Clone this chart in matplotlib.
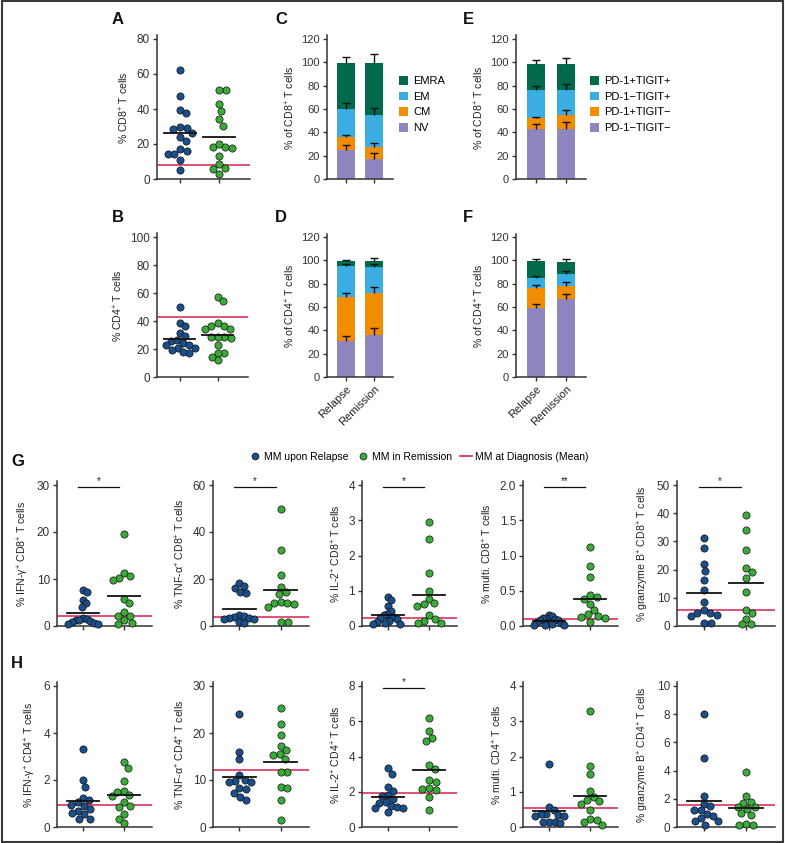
import numpy as np
import matplotlib
matplotlib.use("Agg")
import matplotlib.pyplot as plt
from matplotlib.lines import Line2D
from matplotlib.patches import Patch, Rectangle

plt.rcParams["font.family"] = ["Liberation Sans", "DejaVu Sans"]
plt.rcParams["mathtext.fontset"] = "custom"
plt.rcParams["mathtext.rm"] = "Liberation Sans"
plt.rcParams["mathtext.it"] = "Liberation Sans:italic"
plt.rcParams["mathtext.bf"] = "Liberation Sans:bold"

# ---------------- data ----------------
groups = ["Relapse", "Remission"]

# A / B: % CD8+ and % CD4+ T cells
cd8_relapse = [62, 47.5, 39.5, 37.5, 29, 29.5, 28.5, 26, 24, 21.5, 17, 14, 14.5, 16, 11, 5]
cd8_remission = [51, 51, 43, 39, 34, 30.5, 18, 17.5, 18, 20, 13, 6.5, 6, 8.5, 3]
cd8_means = [26.5, 24.0]
cd8_diag = 7.8
cd4_relapse = [50, 38.5, 36.5, 31.5, 29, 26, 26.5, 24, 23, 23, 21, 21, 19, 17, 18]
cd4_remission = [57, 54, 38.5, 36.5, 36.5, 34, 34, 28, 28.5, 28.5, 28.5, 23, 17, 17.5, 14.5, 12]
cd4_means = [26.9, 30.2]
cd4_diag = 43.0

# C / D: memory subsets (segment heights, bottom -> top)
mem_subsets = ["NV", "CM", "EM", "EMRA"]
mem_cd8_relapse = [25.1, 11.2, 23.7, 39.7]
mem_cd8_remission = [17.4, 10.3, 27.4, 44.6]
mem_cd8_err_relapse = [4.3, 1.1, 4.9, 5.0]
mem_cd8_err_remission = [4.6, 2.9, 5.8, 7.7]
mem_cd4_relapse = [30.9, 38.0, 26.5, 4.0]
mem_cd4_remission = [35.7, 36.3, 22.0, 5.4]
mem_cd4_err_relapse = [4.5, 3.1, 1.5, 1.0]
mem_cd4_err_remission = [6.0, 5.4, 3.0, 2.9]

# E / F: PD-1 / TIGIT subsets (segment heights, bottom -> top)
chk_subsets = ["PD-1\u2212TIGIT\u2212", "PD-1+TIGIT\u2212", "PD-1\u2212TIGIT+", "PD-1+TIGIT+"]
chk_cd8_relapse = [43.1, 8.9, 24.3, 22.6]
chk_cd8_remission = [42.6, 12.5, 21.2, 22.6]
chk_cd8_err_relapse = [4.0, 1.4, 3.4, 3.1]
chk_cd8_err_remission = [6.3, 4.0, 4.8, 5.1]
chk_cd4_relapse = [59.4, 17.2, 8.5, 14.3]
chk_cd4_remission = [66.9, 11.4, 10.3, 10.0]
chk_cd4_err_relapse = [3.5, 2.0, 1.2, 1.7]
chk_cd4_err_remission = [4.2, 3.1, 2.3, 2.5]

# G: CD8 function
g_labels = ["% IFN-\u03b3$^{+}$ CD8$^{+}$ T cells", "% TNF-\u03b1$^{+}$ CD8$^{+}$ T cells",
            "% IL-2$^{+}$ CD8$^{+}$ T cells", "% multi. CD8$^{+}$ T cells",
            "% granzyme B$^{+}$ CD8$^{+}$ T cells"]
g_relapse = [
    [7.7, 7.2, 5.5, 4.8, 4.0, 1.7, 1.5, 1.2, 1.2, 1.0, 0.8, 0.6, 0.5, 0.4],
    [18.3, 17.0, 16.3, 14.5, 14.0, 4.8, 4.3, 3.9, 3.6, 3.3, 3.0, 2.8, 1.5, 1.1],
    [0.82, 0.73, 0.56, 0.42, 0.35, 0.30, 0.25, 0.22, 0.20, 0.15, 0.12, 0.08, 0.06, 0.05],
    [0.16, 0.14, 0.12, 0.11, 0.10, 0.09, 0.08, 0.06, 0.05, 0.04, 0.03, 0.02, 0.01, 0.02],
    [31.1, 27.6, 22.1, 19.5, 16.4, 12.7, 8.5, 5.5, 4.6, 4.7, 3.8, 3.4, 1.1, 1.2],
]
g_remission = [
    [19.5, 11.3, 10.6, 10.2, 9.7, 5.8, 4.8, 2.9, 2.1, 2.1, 1.2, 0.5, 0.6],
    [49.6, 32.4, 21.9, 16.6, 14.5, 13.5, 10.2, 10.0, 10.0, 9.5, 8.1, 1.7, 1.7],
    [2.94, 2.48, 1.49, 0.99, 0.77, 0.64, 0.63, 0.58, 0.30, 0.21, 0.15, 0.08, 0.09],
    [1.12, 0.85, 0.69, 0.44, 0.41, 0.39, 0.31, 0.22, 0.17, 0.14, 0.13, 0.12, 0.06],
    [39.4, 34.0, 26.8, 20.5, 19.0, 17.0, 12.0, 5.8, 4.6, 2.6, 0.6, 0.6],
]
g_means = [(2.7, 6.3), (7.3, 15.5), (0.30, 0.87), (0.07, 0.38), (11.6, 15.2)]
g_diag = [2.1, 3.8, 0.23, 0.10, 5.5]
g_yticks = [[0, 10, 20, 30], [0, 20, 40, 60], [0, 1, 2, 3, 4],
            [0.0, 0.5, 1.0, 1.5, 2.0], [0, 10, 20, 30, 40, 50]]
g_sig = ["*", "*", "*", "**", "*"]

# H: CD4 function
h_labels = ["% IFN-\u03b3$^{+}$ CD4$^{+}$ T cells", "% TNF-\u03b1$^{+}$ CD4$^{+}$ T cells",
            "% IL-2$^{+}$ CD4$^{+}$ T cells", "% multi. CD4$^{+}$ T cells",
            "% granzyme B$^{+}$ CD4$^{+}$ T cells"]
h_relapse = [
    [3.3, 2.0, 1.7, 1.25, 1.15, 1.05, 0.95, 0.9, 0.75, 0.7, 0.6, 0.55, 0.35, 0.35],
    [24, 16, 14.4, 11, 10.1, 9.7, 9.6, 9.6, 8.3, 8.0, 7.3, 6.4, 5.8],
    [3.37, 3.03, 2.27, 2.04, 1.81, 1.75, 1.6, 1.41, 1.37, 1.2, 1.12, 1.05, 1.05, 0.84],
    [1.79, 0.57, 0.47, 0.38, 0.36, 0.34, 0.32, 0.30, 0.15, 0.14, 0.13, 0.12],
    [8.03, 4.86, 2.2, 1.66, 1.49, 1.18, 1.18, 0.9, 0.78, 0.62, 0.4, 0.4, 0.17],
]
h_remission = [
    [2.75, 2.5, 1.95, 1.55, 1.5, 1.35, 1.3, 1.05, 0.9, 0.85, 0.55, 0.35, 0.17],
    [25.4, 21.9, 19.5, 17.2, 16.3, 15.6, 15.4, 14.4, 11.7, 11.8, 8.5, 8.2, 5.7, 1.4],
    [6.17, 5.43, 5.05, 4.9, 3.54, 3.31, 2.65, 2.57, 2.19, 2.15, 2.08, 1.71, 0.95],
    [3.28, 1.74, 1.49, 1.03, 0.85, 0.76, 0.73, 0.66, 0.48, 0.22, 0.20, 0.14, 0.07],
    [3.89, 2.2, 1.8, 1.71, 1.42, 1.42, 1.26, 0.97, 0.83, 0.24, 0.17, 0.17],
]
h_means = [(1.11, 1.35), (10.7, 13.9), (1.73, 3.26), (0.44, 0.89), (1.82, 1.35)]
h_diag = [0.94, 12.2, 1.92, 0.53, 1.56]
h_yticks = [[0, 2, 4, 6], [0, 10, 20, 30], [0, 2, 4, 6, 8], [0, 1, 2, 3, 4], [0, 2, 4, 6, 8, 10]]
h_sig = ["", "", "*", "", ""]

# ---------------- style ----------------
W, H = 785, 843
BLUE = "#1b4f8c"
GREEN = "#3aab38"
RED = "#d8204f"
SUB_COLORS = ["#9086bf", "#f28c00", "#3aade2", "#006a4b"]
AX_COL = "#333333"

fig = plt.figure(figsize=(W / 100, H / 100), dpi=100)


def make_ax(x0, x1, ytop, ybot, ymax, xlim, tick_fs=8):
    # ytop = pixel of the top tick, ybot = pixel of 0; spine a bit over top tick
    over = 0.025
    top = ybot - (1 + over) * (ybot - ytop)
    ax = fig.add_axes([x0 / W, 1 - ybot / H, (x1 - x0) / W, (ybot - top) / H])
    ax.set_ylim(0, ymax * (1 + over))
    ax.set_xlim(*xlim)
    for s in ["top", "right"]:
        ax.spines[s].set_visible(False)
    for s in ["left", "bottom"]:
        ax.spines[s].set_linewidth(1.1)
        ax.spines[s].set_color(AX_COL)
    ax.tick_params(direction="out", length=3, width=1, color=AX_COL,
                   labelsize=tick_fs, labelcolor=AX_COL, pad=2)
    ax.set_xticks([1, 2])
    ax.set_xticklabels([])
    return ax


def swarm_x(ax, xc, vals, dxs=6.8, dys=7.5, lim=15.0):
    # Prism-like scatter: points of similar value are laid side by side
    tr = ax.transData
    xc_pix = tr.transform((xc, 0))[0]
    ypix = [tr.transform((xc, v))[1] for v in vals]
    order = np.argsort(vals)[::-1]
    placed = []
    offs = np.zeros(len(vals))
    for i in order:
        y = ypix[i]
        cands = [0.0]
        for px, py in placed:
            dy = y - py
            if abs(dy) < dys:
                dx = dxs * np.sqrt(1 - (dy / dys) ** 2)
                cands += [px + dx - xc_pix, px - dx - xc_pix]
        cands.sort(key=abs)
        for c in cands:
            if all(((xc_pix + c - px) / dxs) ** 2 + ((y - py) / dys) ** 2 >= 1 - 1e-6
                   for px, py in placed):
                break
        placed.append((xc_pix + c, y))
        offs[i] = c
    # crowded groups overlap instead of spreading past the mean bar
    m = np.abs(offs).max()
    if m > lim:
        offs = offs * lim / m
    return [tr.inverted().transform((xc_pix + o, y))[0] for o, y in zip(offs, ypix)]


def dot_panel(ax, rel, rem, means, diag, yticks, ylabel, sig=""):
    ax.set_yticks(yticks)
    if isinstance(yticks[1], float):
        ax.set_yticklabels([f"{t:.1f}" for t in yticks])
    ax.axhline(diag, color=RED, lw=1.1, zorder=2)
    for xc, vals, col in [(1, rel, BLUE), (2, rem, GREEN)]:
        xs = swarm_x(ax, xc, vals)
        ax.scatter(xs, vals, s=27, color=col, edgecolor="#111111", linewidth=0.5,
                   zorder=3, clip_on=False)
    for xc, m in zip([1, 2], means):
        ax.plot([xc - 0.4, xc + 0.4], [m, m], color="#111111", lw=1.3, zorder=4)
    ax.set_ylabel(ylabel, fontsize=7.6, color="#222222", labelpad=4)
    if sig:
        ymax = yticks[-1]
        ax.plot([0.88, 1.88], [ymax * 0.985] * 2, color="#111111", lw=0.9, clip_on=False)
        ax.text(1.38, ymax * 0.995, sig, ha="center", va="bottom", fontsize=7, color="#222222")


def stack_panel(ax, rel, rem, err_rel, err_rem, ylabel):
    ax.set_yticks(range(0, 121, 20))
    width = 0.62
    bottoms = np.zeros(2)
    for k in range(4):
        h = np.array([rel[k], rem[k]])
        ax.bar([1, 2], h, width=width, bottom=bottoms, color=SUB_COLORS[k],
               edgecolor="none", zorder=2)
        tops = bottoms + h
        e = np.array([err_rel[k], err_rem[k]])
        _, caps, _ = ax.errorbar([1, 2], tops, yerr=[np.zeros(2), e], fmt="none",
                                 ecolor="#111111", elinewidth=1, capsize=3.2, capthick=1,
                                 zorder=3)
        caps[0].set_visible(False)
        bottoms = tops
    ax.set_ylabel(ylabel, fontsize=7.6, color="#222222", labelpad=3)


# ---------------- A / B ----------------
xl_ab = (1 - 23 / 39, 1 + 70 / 39)
axA = make_ax(157, 250, 39, 179, 80, xl_ab, 8.5)
dot_panel(axA, cd8_relapse, cd8_remission, cd8_means, cd8_diag, [0, 20, 40, 60, 80],
          "% CD8$^{+}$ T cells")
axB = make_ax(157, 248, 237, 377, 100, xl_ab, 8.5)
dot_panel(axB, cd4_relapse, cd4_remission, cd4_means, cd4_diag, [0, 20, 40, 60, 80, 100],
          "% CD4$^{+}$ T cells")

# ---------------- C / D / E / F ----------------
xl_bar = (1 - 19 / 28, 2 + 19 / 28)
axC = make_ax(327, 393, 39, 179, 120, xl_bar)
stack_panel(axC, mem_cd8_relapse, mem_cd8_remission, mem_cd8_err_relapse,
            mem_cd8_err_remission, "% of CD8$^{+}$ T cells")
axD = make_ax(327, 393, 237, 377, 120, xl_bar)
stack_panel(axD, mem_cd4_relapse, mem_cd4_remission, mem_cd4_err_relapse,
            mem_cd4_err_remission, "% of CD4$^{+}$ T cells")
axE = make_ax(516, 586, 39, 179, 120, xl_bar)
stack_panel(axE, chk_cd8_relapse, chk_cd8_remission, chk_cd8_err_relapse,
            chk_cd8_err_remission, "% of CD8$^{+}$ T cells")
axF = make_ax(516, 586, 237, 377, 120, xl_bar)
stack_panel(axF, chk_cd4_relapse, chk_cd4_remission, chk_cd4_err_relapse,
            chk_cd4_err_remission, "% of CD4$^{+}$ T cells")

for ax in [axD, axF]:
    ax.set_xticklabels(groups, rotation=45, ha="right", rotation_mode="anchor",
                       fontsize=8, color="#222222")

for ax, names, xpos in [(axC, mem_subsets, 399), (axE, chk_subsets, 590)]:
    handles = [Patch(facecolor=SUB_COLORS[k], edgecolor="none") for k in range(4)][::-1]
    ax.legend(handles, names[::-1], loc="upper left",
              bbox_to_anchor=(xpos / W, 1 - 76 / H), bbox_transform=fig.transFigure,
              frameon=False, fontsize=8, handlelength=0.8, handleheight=0.8,
              handletextpad=0.5, labelspacing=0.5, borderaxespad=0, borderpad=0)

# ---------------- G / H ----------------
xl_gh = (1 - 26 / 41, 1 + 69 / 41)
col_x = [(57, 152), (213, 309), (362, 457), (523, 618), (677, 775)]
for i, (x0, x1) in enumerate(col_x):
    axg = make_ax(x0, x1, 485, 626, g_yticks[i][-1], xl_gh, 8.5)
    dot_panel(axg, g_relapse[i], g_remission[i], g_means[i], g_diag[i], g_yticks[i],
              g_labels[i], g_sig[i])
    axh = make_ax(x0, x1, 686, 827, h_yticks[i][-1], xl_gh, 8.5)
    dot_panel(axh, h_relapse[i], h_remission[i], h_means[i], h_diag[i], h_yticks[i],
              h_labels[i], h_sig[i])

leg_handles = [
    Line2D([], [], marker="o", ls="none", markersize=5, markerfacecolor=BLUE,
           markeredgecolor="#111111", markeredgewidth=0.5),
    Line2D([], [], marker="o", ls="none", markersize=5, markerfacecolor=GREEN,
           markeredgecolor="#111111", markeredgewidth=0.5),
    Line2D([], [], color=RED, lw=1.2),
]
fig.legend(leg_handles, ["MM upon Relapse", "MM in Remission", "MM at Diagnosis (Mean)"],
           loc="center", bbox_to_anchor=(419 / W, 1 - 457 / H), ncol=3, frameon=False,
           fontsize=7.5, handlelength=1.1, handletextpad=0.35, columnspacing=0.8)

# ---------------- panel letters & frame ----------------
for lab, (px, py) in {"A": (118, 19), "B": (118, 217), "C": (281, 19), "D": (281, 217),
                      "E": (468, 19), "F": (468, 217), "G": (18, 461), "H": (17, 663)}.items():
    fig.text(px / W, 1 - py / H, lab, ha="center", va="center", fontsize=12,
             fontweight="bold", color="#111111")

fig.patches.append(Rectangle((0.002, 0.001), 0.996, 0.998, transform=fig.transFigure,
                             fill=False, lw=1.5, ec="#3a3a3a"))

fig.savefig("out.png", dpi=100)
